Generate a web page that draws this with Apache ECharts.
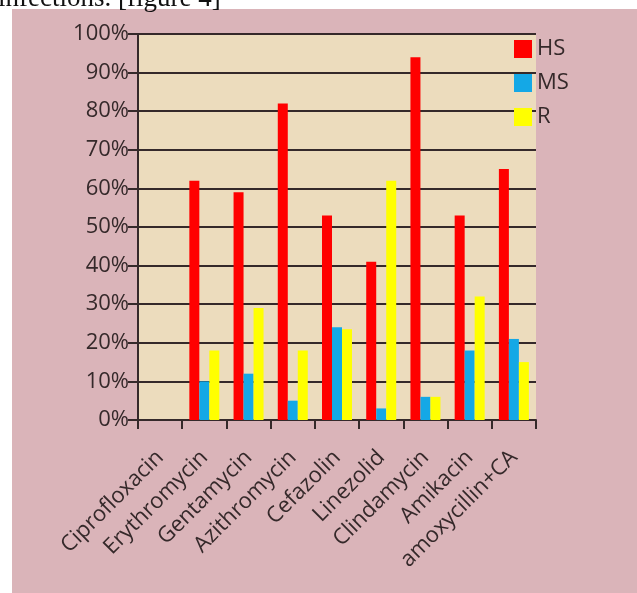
<!DOCTYPE html>
<html>
<head>
<meta charset="utf-8">
<script src="https://cdn.jsdelivr.net/npm/echarts@6/dist/echarts.min.js"></script>
<style>
html,body{margin:0;padding:0;background:#fff;}
#chart{width:637px;height:593px;}
</style>
</head>
<body>
<div id="chart"></div>
<script>
const categories = ['Ciprofloxacin','Erythromycin','Gentamycin','Azithromycin','Cefazolin','Linezolid','Clindamycin','Amikacin','amoxycillin+CA'];
const seriesNames = ['HS','MS','R'];
const hsValues = [0, 62, 59, 82, 53, 41, 94, 53, 65];
const msValues = [0, 10, 12, 5, 24, 3, 6, 18, 21];
const rValues  = [0, 18, 29, 18, 23.5, 62, 6, 32, 15];

const ink = '#35292a';
const chart = echarts.init(document.getElementById('chart'), null, {renderer:'canvas'});
const barStyle = (c) => ({ color: c });
chart.setOption({
  backgroundColor: '#ffffff',
  animation: false,
  textStyle: { fontFamily: 'Open Sans' },
  graphic: [
    { type: 'rect', z: -10, shape: { x: 12, y: 9, width: 625, height: 584 }, style: { fill: '#dab4b9' } },
    { type: 'text', z: -5, left: -2, top: -15, style: { text: 'infections. [figure 4]', fontFamily: 'Liberation Serif', fontSize: 27, fill: '#111' } }
  ],
  grid: { left: 138, right: 101, top: 34, bottom: 173, show: true, backgroundColor: '#ecdcbd', borderWidth: 0 },
  legend: {
    orient: 'vertical', left: 509, top: 33,
    itemWidth: 18, itemHeight: 18, itemGap: 12, icon: 'rect',
    textStyle: { fontSize: 22, color: ink, fontFamily: 'Open Sans', fontWeight: 500 },
    data: seriesNames
  },
  xAxis: {
    type: 'category', data: categories,
    axisLine: { lineStyle: { color: ink, width: 2 } },
    axisTick: { show: true, length: 9, lineStyle: { color: ink, width: 2 } },
    axisLabel: { rotate: 45, margin: 34, fontSize: 22, color: ink, interval: 0, fontWeight: 500 }
  },
  yAxis: {
    type: 'value', min: 0, max: 100, interval: 10,
    axisLine: { show: true, lineStyle: { color: ink, width: 2 } },
    axisTick: { show: true, length: 10, lineStyle: { color: ink, width: 2 } },
    axisLabel: { formatter: '{value}%', fontSize: 22, color: ink, margin: 9, fontWeight: 500 },
    splitLine: { show: true, lineStyle: { color: ink, width: 2 } }
  },
  series: [
    { name: 'HS', type: 'bar', data: hsValues, barWidth: 10, barGap: '0%', itemStyle: barStyle('#ff0000') },
    { name: 'MS', type: 'bar', data: msValues, barWidth: 10, barGap: '0%', itemStyle: barStyle('#14a8e6') },
    { name: 'R',  type: 'bar', data: rValues,  barWidth: 10, barGap: '0%', itemStyle: barStyle('#ffff00') }
  ]
});
</script>
</body>
</html>
